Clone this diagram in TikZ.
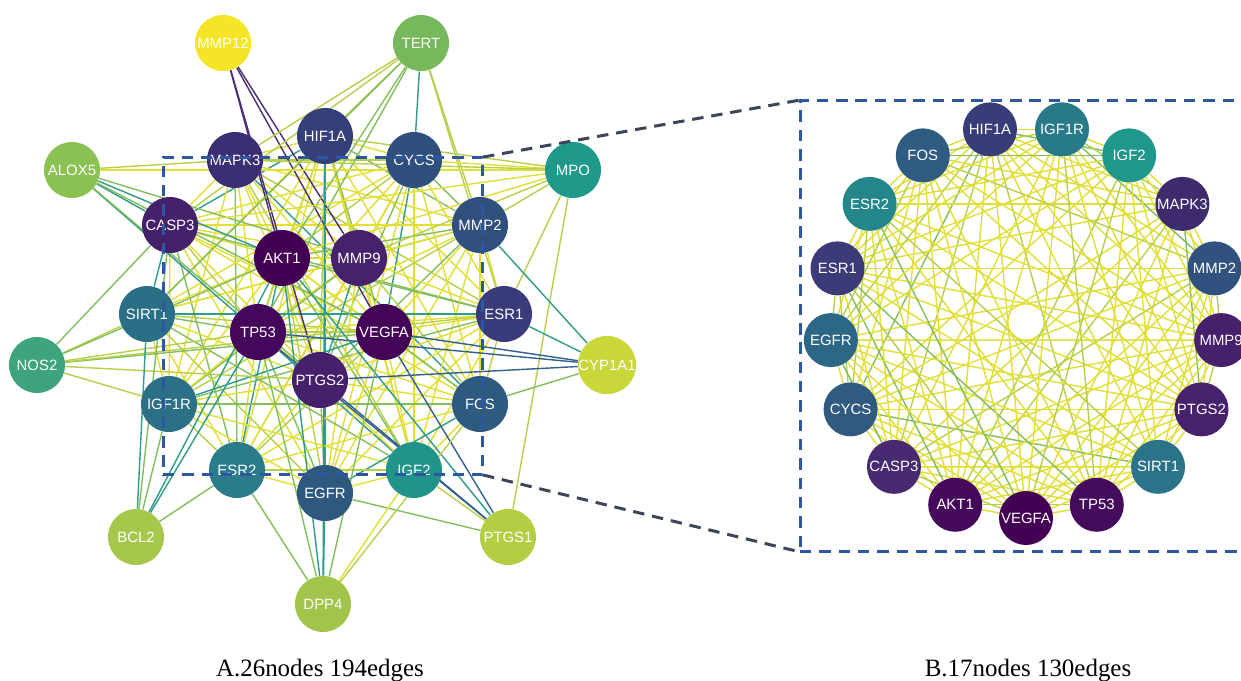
\documentclass[tikz,border=0pt]{standalone}
\usepackage{fontspec}
\setmainfont{Liberation Serif}
\newfontfamily\lblfont{Liberation Sans}
\pgfdeclarelayer{paper}
\pgfdeclarelayer{links}
\pgfsetlayers{paper,links,main}
% link colours
\definecolor{lnY}{HTML}{E1DF36}
\definecolor{lnYG}{HTML}{B7D04B}
\definecolor{lnG}{HTML}{82BE5D}
\definecolor{lnT}{HTML}{2F9C8A}
\definecolor{lnB}{HTML}{33618E}
\definecolor{lnP}{HTML}{4A2E74}
\colorlet{lc0}{lnY}\colorlet{lc1}{lnY}\colorlet{lc2}{lnY}\colorlet{lc3}{lnY}
\colorlet{lc4}{lnY}\colorlet{lc5}{lnY}\colorlet{lc6}{lnY}\colorlet{lc7}{lnY}
\colorlet{lc8}{lnYG}\colorlet{lc9}{lnYG}\colorlet{lc10}{lnG}\colorlet{lc11}{lnG}
\colorlet{lc12}{lnT}
\colorlet{rc0}{lnY}\colorlet{rc1}{lnY}\colorlet{rc2}{lnY}\colorlet{rc3}{lnY}
\colorlet{rc4}{lnY}\colorlet{rc5}{lnY}\colorlet{rc6}{lnY}\colorlet{rc7}{lnY}
\colorlet{rc8}{lnY}\colorlet{rc9}{lnY}\colorlet{rc10}{lnYG}\colorlet{rc11}{lnYG}
\colorlet{rc12}{lnG}
% node colours, panel A
\definecolor{cAMMP12}{HTML}{F6E526}
\definecolor{cATERT}{HTML}{76B85B}
\definecolor{cAALOX5}{HTML}{8CC153}
\definecolor{cAMPO}{HTML}{1F9A8A}
\definecolor{cANOS2}{HTML}{3DA47B}
\definecolor{cACYP1A1}{HTML}{CAD73B}
\definecolor{cABCL2}{HTML}{A5C84C}
\definecolor{cAPTGS1}{HTML}{B3CE43}
\definecolor{cADPP4}{HTML}{A1C54B}
\definecolor{cAHIF1A}{HTML}{353F7A}
\definecolor{cAMAPK3}{HTML}{3C2E72}
\definecolor{cACYCS}{HTML}{2F4F7C}
\definecolor{cACASP3}{HTML}{43226B}
\definecolor{cAMMP2}{HTML}{31507E}
\definecolor{cAAKT1}{HTML}{440154}
\definecolor{cAMMP9}{HTML}{46226D}
\definecolor{cASIRT1}{HTML}{2A6F85}
\definecolor{cAESR1}{HTML}{3A3B7A}
\definecolor{cATP53}{HTML}{45075B}
\definecolor{cAVEGFA}{HTML}{440558}
\definecolor{cAPTGS2}{HTML}{47206C}
\definecolor{cAIGF1R}{HTML}{2B7086}
\definecolor{cAFOS}{HTML}{2E5A80}
\definecolor{cAESR2}{HTML}{2A7C8A}
\definecolor{cAIGF2}{HTML}{20938B}
\definecolor{cAEGFR}{HTML}{2F587F}
% node colours, panel B
\definecolor{cBVEGFA}{HTML}{440154}
\definecolor{cBTP53}{HTML}{450C5E}
\definecolor{cBSIRT1}{HTML}{2A7388}
\definecolor{cBPTGS2}{HTML}{45226B}
\definecolor{cBMMP9}{HTML}{46206B}
\definecolor{cBMMP2}{HTML}{31527E}
\definecolor{cBMAPK3}{HTML}{3E2B6E}
\definecolor{cBIGF2}{HTML}{1F978A}
\definecolor{cBIGF1R}{HTML}{287A89}
\definecolor{cBHIF1A}{HTML}{383C78}
\definecolor{cBFOS}{HTML}{2F5C80}
\definecolor{cBESR2}{HTML}{23868A}
\definecolor{cBESR1}{HTML}{3D3A78}
\definecolor{cBEGFR}{HTML}{2C6886}
\definecolor{cBCYCS}{HTML}{305A80}
\definecolor{cBCASP3}{HTML}{472A70}
\definecolor{cBAKT1}{HTML}{450A5C}
\definecolor{boxblue}{HTML}{2E57A3}
\definecolor{zoomgray}{HTML}{3D4659}
% pairs of the 17-node cluster that are not linked
\newcommand\nolinkpair[2]{\expandafter\def\csname sk#1-#2\endcsname{}\expandafter\def\csname sk#2-#1\endcsname{}}
\nolinkpair{SIRT1}{MAPK3}
\nolinkpair{IGF2}{CASP3}
\nolinkpair{IGF1R}{CYCS}
\nolinkpair{ESR2}{MMP2}
\nolinkpair{EGFR}{MAPK3}
\nolinkpair{FOS}{SIRT1}
\def\corelist{HIF1A,MAPK3,CYCS,CASP3,MMP2,AKT1,MMP9,SIRT1,ESR1,TP53,VEGFA,PTGS2,IGF1R,FOS,ESR2,IGF2,EGFR}
\begin{document}
\begin{tikzpicture}[x=0.02cm,y=-0.02cm,
  ndA/.style={circle,minimum size=1.12cm,inner sep=0pt,text=white,
    font=\lblfont\fontsize{8.5}{10}\selectfont},
  ndB/.style={circle,minimum size=1.08cm,inner sep=0pt,text=white,
    font=\lblfont\fontsize{8.5}{10}\selectfont},
  lnk/.style={line width=0.8pt},
  zoombox/.style={draw=boxblue,line width=1.7pt,dash pattern=on 6.5pt off 4.5pt,
    inner sep=0pt,outer sep=0pt,fill=none},
  zoomline/.style={draw=zoomgray,line width=1.7pt,dash pattern=on 6.5pt off 4.5pt},
  captxt/.style={font=\fontsize{14.2}{17}\selectfont,anchor=base,inner sep=0pt}]
\useasboundingbox (0,0) rectangle (1241,680);
\begin{pgfonlayer}{paper}
\fill[white] (0,0) rectangle (1241,680);
\end{pgfonlayer}
\clip (0,0) rectangle (1241,680);

% ---------------- panel A nodes ----------------
\node[ndA,fill=cAMMP12] (aMMP12) at (223,43) {MMP12};
\node[ndA,fill=cATERT] (aTERT) at (421,43) {TERT};
\node[ndA,fill=cAHIF1A] (aHIF1A) at (325,136) {HIF1A};
\node[ndA,fill=cAMAPK3] (aMAPK3) at (235,160) {MAPK3};
\node[ndA,fill=cACYCS] (aCYCS) at (414,160) {CYCS};
\node[ndA,fill=cAALOX5] (aALOX5) at (72,170) {ALOX5};
\node[ndA,fill=cAMPO] (aMPO) at (573,170) {MPO};
\node[ndA,fill=cACASP3] (aCASP3) at (170,225) {CASP3};
\node[ndA,fill=cAMMP2] (aMMP2) at (480,225) {MMP2};
\node[ndA,fill=cAAKT1] (aAKT1) at (282,258) {AKT1};
\node[ndA,fill=cAMMP9] (aMMP9) at (359,258) {MMP9};
\node[ndA,fill=cASIRT1] (aSIRT1) at (147,314) {SIRT1};
\node[ndA,fill=cAESR1] (aESR1) at (504,314) {ESR1};
\node[ndA,fill=cATP53] (aTP53) at (258,332) {TP53};
\node[ndA,fill=cAVEGFA] (aVEGFA) at (384,332) {VEGFA};
\node[ndA,fill=cANOS2] (aNOS2) at (37,365) {NOS2};
\node[ndA,fill=cACYP1A1] (aCYP1A1) at (607,365) {CYP1A1};
\node[ndA,fill=cAPTGS2] (aPTGS2) at (320,380) {PTGS2};
\node[ndA,fill=cAIGF1R] (aIGF1R) at (169,404) {IGF1R};
\node[ndA,fill=cAFOS] (aFOS) at (480,404) {FCS};
\node[ndA,fill=cAESR2] (aESR2) at (237,470) {ESR2};
\node[ndA,fill=cAIGF2] (aIGF2) at (414,470) {IGF2};
\node[ndA,fill=cAEGFR] (aEGFR) at (325,493) {EGFR};
\node[ndA,fill=cABCL2] (aBCL2) at (136,537) {BCL2};
\node[ndA,fill=cAPTGS1] (aPTGS1) at (508,537) {PTGS1};
\node[ndA,fill=cADPP4] (aDPP4) at (323,604) {DPP4};

% ---------------- panel B nodes ----------------
\foreach \g [count=\n from 0] in {VEGFA,TP53,SIRT1,PTGS2,MMP9,MMP2,MAPK3,IGF2,IGF1R,HIF1A,FOS,ESR2,ESR1,EGFR,CYCS,CASP3,AKT1} {
  \pgfmathsetmacro\ang{270+\n*360/17}
  \node[ndB,fill=cB\g] (b\g) at ({1026+196*cos(\ang)},{322-196*sin(\ang)}) {\g};
}

% ---------------- links ----------------
\begin{pgfonlayer}{links}
% cluster links, panel A and panel B
\foreach \p [count=\i] in \corelist {
  \foreach \q [count=\j] in \corelist {
    \ifnum\j>\i
      \ifcsname sk\p-\q\endcsname\else
        \pgfmathtruncatemacro\k{mod(\i*7+\j*11,13)}
        \draw[lnk,draw=lc\k] (a\p) -- (a\q);
        \pgfmathtruncatemacro\m{mod(\i*5+\j*11,13)}
        \draw[lnk,draw=rc\m] (b\p) -- (b\q);
      \fi
    \fi
  }
}
% links of the outer nodes, panel A
\foreach \s/\t/\c in {
  MMP12/AKT1/P, MMP12/PTGS2/P, MMP12/MMP9/P, MMP12/VEGFA/P,
  TERT/MAPK3/YG, TERT/HIF1A/YG, TERT/CASP3/YG, TERT/AKT1/G, TERT/TP53/G,
  TERT/CYCS/T, TERT/MMP2/YG, TERT/ESR1/YG, TERT/SIRT1/G,
  ALOX5/MPO/Y, ALOX5/CASP3/T, ALOX5/AKT1/T, ALOX5/TP53/T, ALOX5/PTGS2/G,
  ALOX5/VEGFA/G, ALOX5/MMP9/G, ALOX5/MAPK3/YG,
  MPO/CYCS/Y, MPO/MAPK3/YG, MPO/HIF1A/YG, MPO/MMP2/YG, MPO/AKT1/Y,
  MPO/MMP9/YG, MPO/CASP3/Y, MPO/ESR1/YG, MPO/PTGS1/YG,
  NOS2/CASP3/G, NOS2/SIRT1/YG, NOS2/AKT1/G, NOS2/TP53/YG, NOS2/VEGFA/G,
  NOS2/PTGS2/YG, NOS2/ESR1/YG, NOS2/IGF1R/YG,
  CYP1A1/MMP2/T, CYP1A1/ESR1/T, CYP1A1/VEGFA/B, CYP1A1/TP53/B,
  CYP1A1/PTGS2/B, CYP1A1/FOS/G,
  BCL2/IGF1R/G, BCL2/ESR2/G, BCL2/SIRT1/T, BCL2/CASP3/G, BCL2/AKT1/T, BCL2/TP53/T,
  PTGS1/EGFR/G, PTGS1/IGF2/YG, PTGS1/VEGFA/B, PTGS1/TP53/B, PTGS1/AKT1/T, PTGS1/PTGS2/B,
  DPP4/EGFR/T, DPP4/ESR2/G, DPP4/IGF2/Y, DPP4/HIF1A/T, DPP4/AKT1/T,
  DPP4/TP53/G, DPP4/VEGFA/G, DPP4/FOS/YG}
  \draw[lnk,draw=ln\c] (a\s) -- (a\t);
\end{pgfonlayer}

% ---------------- zoom frames ----------------
\node[zoombox,minimum width=6.4cm,minimum height=6.36cm] (boxA) at (323,316) {};
\node[zoombox,minimum width=9.1cm,minimum height=9.04cm] (boxB) at (1027.5,326) {};
\draw[zoomline] (boxA.north east) -- (boxB.north west);
\draw[zoomline] (boxA.south east) -- (boxB.south west);

% ---------------- captions ----------------
\node[captxt] (capA) at (320,676) {A.26nodes 194edges};
\node[captxt] (capB) at (1028,676) {B.17nodes 130edges};
\end{tikzpicture}
\end{document}
